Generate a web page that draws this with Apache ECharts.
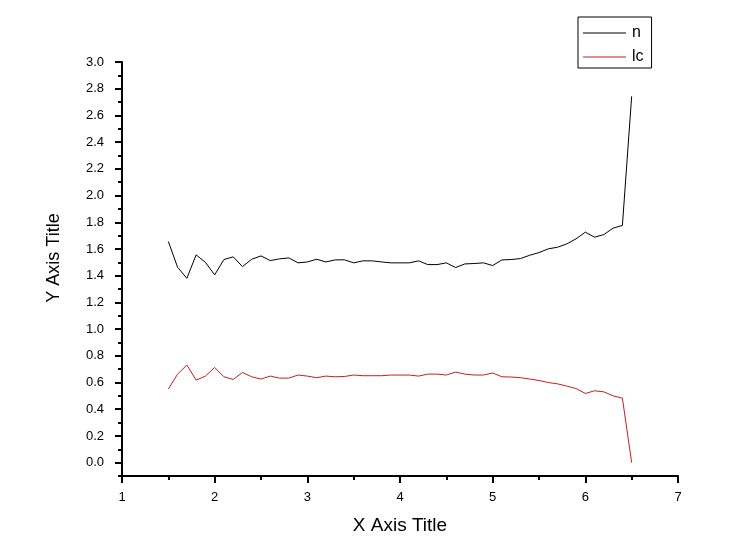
<!DOCTYPE html>
<html>
<head>
<meta charset="utf-8">
<script src="https://cdn.jsdelivr.net/npm/echarts@6/dist/echarts.min.js"></script>
<style>
  html, body { margin: 0; padding: 0; background: #fff; }
  #chart { width: 742px; height: 552px; }
</style>
</head>
<body>
<div id="chart"></div>
<script>
  // data
  const xValues = [1.5, 1.6, 1.7, 1.8, 1.9, 2.0, 2.1, 2.2, 2.3, 2.4, 2.5, 2.6, 2.7, 2.8, 2.9,
    3.0, 3.1, 3.2, 3.3, 3.4, 3.5, 3.6, 3.7, 3.8, 3.9, 4.0, 4.1, 4.2, 4.3, 4.4, 4.5, 4.6, 4.7,
    4.8, 4.9, 5.0, 5.1, 5.2, 5.3, 5.4, 5.5, 5.6, 5.7, 5.8, 5.9, 6.0, 6.1, 6.2, 6.3, 6.4, 6.5];
  const nValues = [1.656, 1.463, 1.380, 1.556, 1.500, 1.406, 1.521, 1.541, 1.468, 1.523, 1.548,
    1.513, 1.526, 1.533, 1.496, 1.503, 1.523, 1.503, 1.518, 1.519, 1.496, 1.511, 1.511, 1.503,
    1.496, 1.496, 1.496, 1.511, 1.483, 1.483, 1.496, 1.461, 1.488, 1.491, 1.496, 1.476, 1.518,
    1.521, 1.528, 1.553, 1.573, 1.601, 1.613, 1.638, 1.676, 1.726, 1.688, 1.708, 1.756, 1.776, 2.743];
  const lcValues = [0.551, 0.663, 0.731, 0.618, 0.648, 0.713, 0.643, 0.623, 0.675, 0.643, 0.626,
    0.648, 0.633, 0.633, 0.656, 0.648, 0.636, 0.648, 0.643, 0.645, 0.656, 0.651, 0.651, 0.651,
    0.656, 0.656, 0.656, 0.648, 0.663, 0.663, 0.656, 0.678, 0.663, 0.656, 0.656, 0.671, 0.643,
    0.641, 0.636, 0.626, 0.615, 0.600, 0.590, 0.573, 0.555, 0.518, 0.538, 0.530, 0.500, 0.483, 0.0];

  const xMajorTicks = [1, 2, 3, 4, 5, 6, 7];
  const xMinorTicks = [1.5, 2.5, 3.5, 4.5, 5.5, 6.5];
  const yMajorTicks = [0, 0.2, 0.4, 0.6, 0.8, 1.0, 1.2, 1.4, 1.6, 1.8, 2.0, 2.2, 2.4, 2.6, 2.8, 3.0];
  const yMinorTicks = [-0.1, 0.1, 0.3, 0.5, 0.7, 0.9, 1.1, 1.3, 1.5, 1.7, 1.9, 2.1, 2.3, 2.5, 2.7, 2.9];

  const font = 'Liberation Sans, Arial, sans-serif';
  const lineIcon = 'path://M0,0 L43,0 L43,1 L0,1 Z';
  const chart = echarts.init(document.getElementById('chart'));

  const option = {
    backgroundColor: '#fff',
    animation: false,
    grid: { left: 122, right: 64, top: 62, bottom: 76 },
    legend: {
      orient: 'vertical',
      left: 578,
      top: 17,
      padding: [8, 8, 3, 5],
      itemGap: 8,
      itemWidth: 43,
      itemHeight: 1,
      borderColor: '#000',
      borderWidth: 1,
      textStyle: { color: '#000', fontSize: 16, lineHeight: 16, fontFamily: font, padding: [0, 0, 0, 1] },
      data: [
        { name: 'n', icon: lineIcon },
        { name: 'lc', icon: lineIcon }
      ]
    },
    xAxis: [
      {
        type: 'value',
        min: 1,
        max: 7,
        name: 'X Axis Title',
        nameLocation: 'middle',
        nameGap: 40,
        nameTextStyle: { color: '#000', fontSize: 19, fontFamily: font },
        splitLine: { show: false },
        axisLine: { show: true, onZero: false, lineStyle: { color: '#000', width: 2 } },
        axisTick: { show: true, length: 7, lineStyle: { color: '#000', width: 2 }, customValues: xMajorTicks },
        axisLabel: { color: '#000', fontSize: 13, fontFamily: font, margin: 15, customValues: xMajorTicks }
      },
      {
        type: 'value',
        min: 1,
        max: 7,
        position: 'bottom',
        splitLine: { show: false },
        axisLine: { show: false, onZero: false },
        axisTick: { show: true, length: 4, lineStyle: { color: '#000', width: 2 }, customValues: xMinorTicks },
        axisLabel: { show: false }
      }
    ],
    yAxis: [
      {
        type: 'value',
        min: -0.1,
        max: 3.0,
        name: 'Y Axis Title',
        nameLocation: 'middle',
        nameGap: 59,
        nameTextStyle: { color: '#000', fontSize: 18, fontFamily: font, padding: [0, 0, 0, 22] },
        splitLine: { show: false },
        axisLine: { show: true, onZero: false, lineStyle: { color: '#000', width: 2 } },
        axisTick: { show: true, length: 7, lineStyle: { color: '#000', width: 2 }, customValues: yMajorTicks },
        axisLabel: {
          color: '#000', fontSize: 13, fontFamily: font, margin: 18,
          customValues: yMajorTicks,
          formatter: v => v.toFixed(1)
        }
      },
      {
        type: 'value',
        min: -0.1,
        max: 3.0,
        position: 'left',
        splitLine: { show: false },
        axisLine: { show: false, onZero: false },
        axisTick: { show: true, length: 4, lineStyle: { color: '#000', width: 2 }, customValues: yMinorTicks },
        axisLabel: { show: false }
      }
    ],
    series: [
      {
        name: 'n',
        type: 'line',
        symbol: 'none',
        lineStyle: { color: '#000', width: 1 },
        itemStyle: { color: '#000' },
        data: xValues.map((x, i) => [x, nValues[i]])
      },
      {
        name: 'lc',
        type: 'line',
        symbol: 'none',
        lineStyle: { color: '#c81e1e', width: 1 },
        itemStyle: { color: '#c81e1e' },
        data: xValues.map((x, i) => [x, lcValues[i]])
      }
    ]
  };
  chart.setOption(option);
</script>
</body>
</html>
